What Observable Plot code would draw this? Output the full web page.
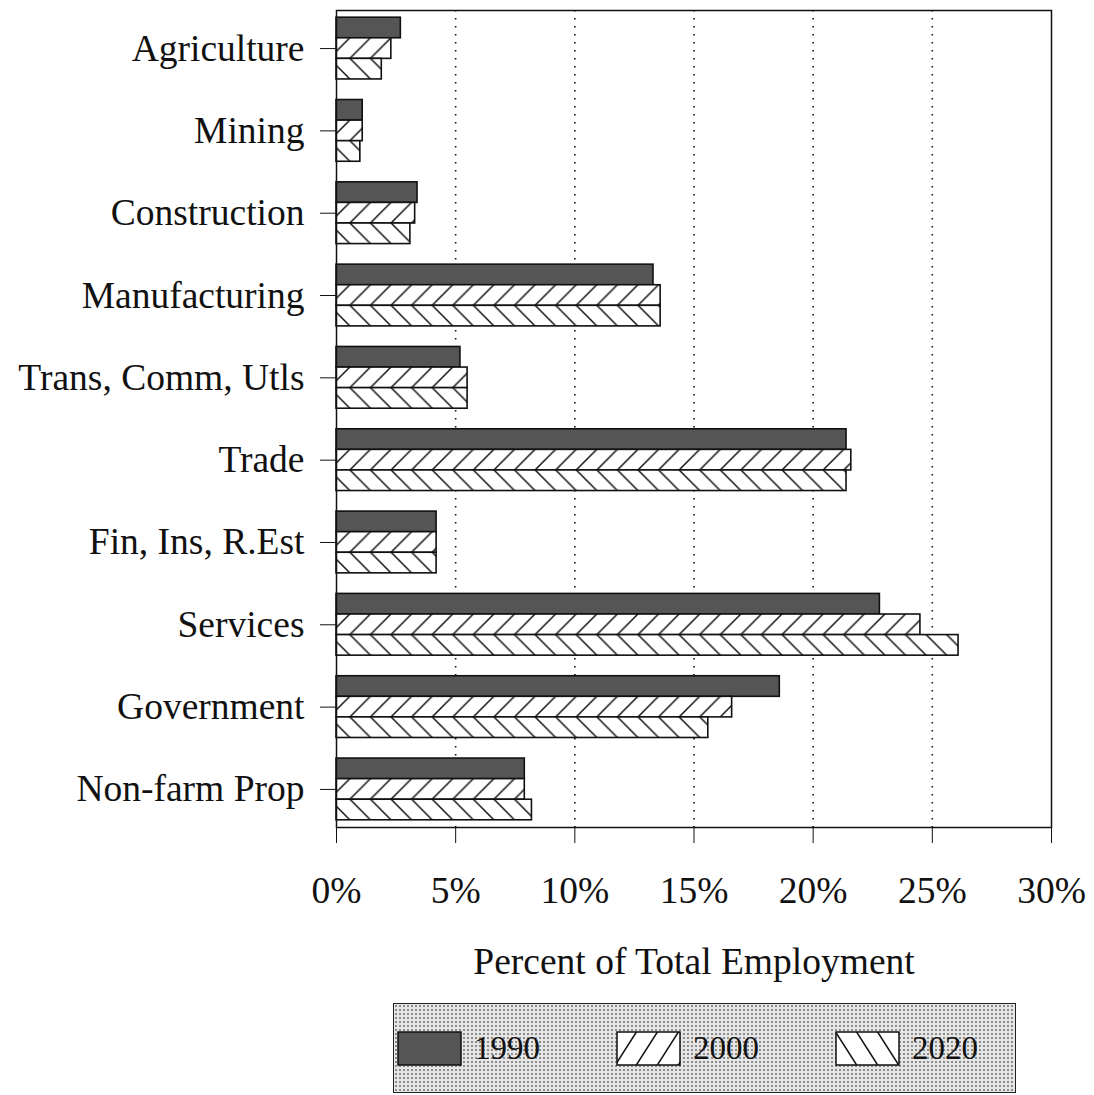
<!DOCTYPE html>
<html><head><meta charset="utf-8">
<script src="https://cdn.jsdelivr.net/npm/d3@7"></script>
<script src="https://cdn.jsdelivr.net/npm/@observablehq/plot@0.6"></script>
<style>
body{margin:0;background:#fff;font-family:"Liberation Serif","Times New Roman",serif;}
#wrap{position:relative;width:1094px;height:1095px;overflow:hidden;}
#legend{position:absolute;left:393px;top:1003px;width:623px;height:90px;box-sizing:border-box;border:1.5px solid #222;background-color:#e6e6e6;background-image:radial-gradient(circle,#8c8c8c 0.9px,transparent 1.2px);background-size:4px 4px;}
.item{position:absolute;top:27px;display:flex;align-items:center;}
.item svg{display:block}
.item span{font-size:33px;margin-left:12px;line-height:1;color:#111;}
</style></head><body>
<div id="wrap"><div id="chart"></div><div id="legend"></div></div>
<script>
const categories = ["Agriculture","Mining","Construction","Manufacturing","Trans, Comm, Utls","Trade","Fin, Ins, R.Est","Services","Government","Non-farm Prop"];
const years = ["1990","2000","2020"];
const v1990 = [2.7, 1.1, 3.4, 13.3, 5.2, 21.4, 4.2, 22.8, 18.6, 7.9];
const v2000 = [2.3, 1.1, 3.3, 13.6, 5.5, 21.6, 4.2, 24.5, 16.6, 7.9];
const v2020 = [1.9, 1.0, 3.1, 13.6, 5.5, 21.4, 4.2, 26.1, 15.6, 8.2];
const xTicks = [0, 5, 10, 15, 20, 25, 30];
const xLabel = "Percent of Total Employment";

const series = {"1990": v1990, "2000": v2000, "2020": v2020};
const fills = {"1990": "#555555", "2000": "url(#h2000)", "2020": "url(#h2020)"};
const rows = categories.flatMap((c, i) => years.map(y => ({category: c, year: y, value: series[y][i], key: c + "|" + y})));
const yDomain = categories.flatMap((c, i) => {
  const ks = years.map(y => c + "|" + y);
  return i < categories.length - 1 ? [...ks, c + "|gap"] : ks;
});
const tickKeys = categories.map(c => c + "|2000");

const chart = Plot.plot({
  width: 1094, height: 997,
  marginLeft: 336, marginRight: 43, marginTop: 10, marginBottom: 170,
  style: {fontFamily: "'Liberation Serif','Times New Roman',serif", fontSize: "37.5px", color: "#111", background: "white"},
  x: {domain: [0, 30], ticks: xTicks, tickFormat: d => d + "%", tickSize: 16, tickPadding: 33,
      label: xLabel, labelAnchor: "center", labelOffset: 146, labelArrow: "none"},
  y: {domain: yDomain, paddingInner: 0, paddingOuter: 0.35, align: 0.5, round: false,
      ticks: tickKeys, tickFormat: d => d.split("|")[0], tickSize: 16, tickPadding: 16, label: null},
  marks: [
    Plot.ruleX(xTicks.filter(t => t > 0 && t < 30), {stroke: "#111", strokeWidth: 1.6, strokeDasharray: "1.6 6.4"}),
    ...years.map(yr => Plot.barX(rows.filter(r => r.year === yr), {x: "value", y: "key", fill: fills[yr], stroke: "#111", strokeWidth: 1.6})),
    Plot.frame({stroke: "#111", strokeWidth: 1.5})
  ]
});

// hatch patterns aligned to the band step so the hatch lines meet as chevrons
const ys = chart.scale("y");
const s = ys.bandwidth;
const y0 = ys.apply(yDomain[0]);
const ns = "http://www.w3.org/2000/svg";
const defs = document.createElementNS(ns, "defs");
defs.innerHTML = `
<pattern id="h2000" patternUnits="userSpaceOnUse" x="0" y="${y0}" width="${s}" height="${s}">
  <rect width="${s}" height="${s}" fill="white"/>
  <path d="M${-s/4},${s/4}L${s/4},${-s/4}M0,${s}L${s},0M${3*s/4},${5*s/4}L${5*s/4},${3*s/4}" stroke="#111" stroke-width="1.5"/>
</pattern>
<pattern id="h2020" patternUnits="userSpaceOnUse" x="0" y="${y0}" width="${s}" height="${s}">
  <rect width="${s}" height="${s}" fill="white"/>
  <path d="M${-s/4},${3*s/4}L${s/4},${5*s/4}M0,0L${s},${s}M${3*s/4},${-s/4}L${5*s/4},${s/4}" stroke="#111" stroke-width="1.5"/>
</pattern>`;
chart.insertBefore(defs, chart.firstChild);
document.getElementById("chart").appendChild(chart);

// legend
const legend = document.getElementById("legend");
const legendLeft = {"1990": 3, "2000": 222, "2020": 441};
years.forEach(yr => {
  const item = document.createElement("div");
  item.className = "item";
  item.style.left = legendLeft[yr] + "px";
  const w = 63, h = 33, pw = 21;
  let fill = "#555555", def = "";
  if (yr !== "1990") {
    const d = yr === "2000"
      ? `M${-pw/4},${h/4}L${pw/4},${-h/4}M0,${h}L${pw},0M${3*pw/4},${5*h/4}L${5*pw/4},${3*h/4}`
      : `M${-pw/4},${3*h/4}L${pw/4},${5*h/4}M0,0L${pw},${h}M${3*pw/4},${-h/4}L${5*pw/4},${h/4}`;
    def = `<defs><pattern id="lg${yr}" patternUnits="userSpaceOnUse" x="0" y="0" width="${pw}" height="${h}"><rect width="${pw}" height="${h}" fill="white"/><path d="${d}" stroke="#111" stroke-width="1.5"/></pattern></defs>`;
    fill = `url(#lg${yr})`;
  }
  item.innerHTML = `<svg width="${w+2}" height="${h+2}">${def}<rect x="1" y="1" width="${w}" height="${h}" fill="${fill}" stroke="#111" stroke-width="1.5"/></svg><span>${yr}</span>`;
  legend.appendChild(item);
});
</script>
</body></html>
